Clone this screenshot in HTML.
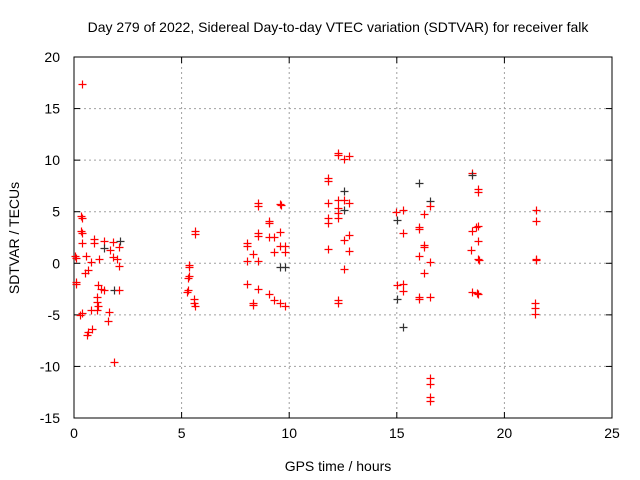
<!DOCTYPE html>
<html><head><meta charset="utf-8"><style>
html,body{margin:0;padding:0;background:#fff;}
svg{display:block;font-family:"Liberation Sans",sans-serif;}
</style></head><body>
<svg id="chart" width="640" height="480">
<rect width="640" height="480" fill="#fff"/>
<text x="338" y="32" text-anchor="middle" font-size="14" fill="#000">Day 279 of 2022, Sidereal Day-to-day VTEC variation (SDTVAR) for receiver falk</text>
<text x="338" y="471" text-anchor="middle" font-size="14" fill="#000">GPS time / hours</text>
<text transform="translate(19,238) rotate(-90)" text-anchor="middle" font-size="14" fill="#000">SDTVAR / TECUs</text>
<g id="grid"></g><g id="axes"></g><g id="marks"></g>
</svg>
<script>
const hours=[0.37,0.33,0.37,0.33,0.37,0.37,0.93,0.93,1.39,1.39,1.67,1.81,2.14,2.09,0.05,0.09,0.56,0.79,1.16,1.81,2.0,2.09,0.65,0.51,0.09,0.09,1.12,1.25,1.39,1.86,2.09,1.07,1.07,1.12,0.37,0.28,0.79,1.07,1.63,1.58,0.65,0.6,0.84,1.86,
5.34,5.34,5.34,5.3,5.3,5.25,5.62,5.62,5.58,5.58,5.62,
8.55,8.55,9.57,9.62,9.06,9.06,8.55,8.55,9.57,9.06,9.29,9.29,8.04,8.04,8.32,8.04,8.55,9.57,9.8,9.8,9.57,9.8,8.04,8.55,9.06,9.29,9.57,9.8,8.32,8.32,
11.8,11.8,12.27,12.27,12.55,12.78,11.8,12.27,12.27,12.27,12.55,12.55,12.78,12.55,11.8,11.8,12.27,12.78,12.55,11.8,12.78,12.55,12.27,12.27,
15.01,15.29,15.29,15.01,15.29,14.96,15.29,15.01,15.29,16.03,16.03,16.03,16.26,16.26,16.03,16.26,16.03,16.03,16.54,16.54,16.26,16.54,16.54,16.54,16.54,16.54,16.54,
18.49,18.49,18.77,18.77,18.49,18.68,18.77,18.77,18.45,18.77,18.82,18.49,18.77,18.72,
21.47,21.47,21.47,21.47,21.42,21.42,21.42];
const tecu=[17.36,4.56,4.36,3.1,2.91,1.94,2.33,1.94,2.13,1.45,1.26,2.04,2.13,1.55,0.68,0.48,0.68,0.1,0.39,0.58,0.39,-0.29,-0.68,-0.97,-1.84,-2.04,-2.13,-2.52,-2.62,-2.62,-2.62,-3.3,-3.78,-4.17,-4.85,-5.04,-4.56,-4.56,-4.75,-5.63,-6.69,-6.98,-6.4,-9.6,
-0.19,-0.39,-1.26,-1.45,-2.62,-2.81,3.1,2.81,-3.49,-3.88,-4.17,
5.82,5.53,5.72,5.63,4.07,3.88,2.91,2.62,3.01,2.52,2.52,1.07,1.94,1.65,0.87,0.19,0.19,1.65,1.65,1.07,-0.39,-0.39,-2.04,-2.52,-3.0,-3.59,-3.88,-4.17,-3.88,-4.07,
8.24,7.95,10.67,10.48,10.09,10.38,5.82,6.11,5.33,4.85,6.98,6.11,5.82,5.14,4.36,3.88,4.36,2.72,2.23,1.36,1.16,-0.58,-3.88,-3.59,
-2.13,-2.04,-2.72,-3.49,-6.21,4.95,5.14,4.17,2.91,7.76,3.49,3.3,4.75,1.55,0.68,-0.97,-3.3,-3.49,6.01,5.53,1.75,0.1,-3.3,-11.15,-11.74,-13.0,-13.38,
8.73,8.54,7.18,6.89,3.1,3.49,3.59,2.13,1.26,0.39,0.29,-2.81,-3.0,-2.91,
5.14,4.07,0.39,0.29,-3.88,-4.36,-4.95];
const darkIdx=[9,12,29,75,76,95,98,112,113,116,118,127,137];
const xTicks=[0,5,10,15,20,25];
const yTicks=[-15,-10,-5,0,5,10,15,20];
const X0=74,X1=612,Y0=418,Y1=57,XMIN=0,XMAX=25,YMIN=-15,YMAX=20;
const sx=v=>X0+(v-XMIN)/(XMAX-XMIN)*(X1-X0);
const sy=v=>Y0-(v-YMIN)/(YMAX-YMIN)*(Y0-Y1);
const NS="http://www.w3.org/2000/svg";
function mk(tag,attrs,parent){const e=document.createElementNS(NS,tag);for(const k in attrs)e.setAttribute(k,attrs[k]);parent.appendChild(e);return e;}
const grid=document.getElementById('grid'),axes=document.getElementById('axes'),marks=document.getElementById('marks');
xTicks.forEach(t=>{
  const x=sx(t);
  if(t>XMIN&&t<XMAX){const g=mk('line',{x1:x,x2:x,y1:Y1,y2:Y0,stroke:'#a0a0a0','stroke-dasharray':'2,3'},grid);
  
  }
  const tk=mk('line',{x1:x,x2:x,y1:Y0,y2:Y0-6,stroke:'#000'},axes);
  
  
  const tk2=mk('line',{x1:x,x2:x,y1:Y1,y2:Y1+6,stroke:'#000'},axes);
  
  
  const l=mk('text',{x:x,y:Y0+20,'text-anchor':'middle','font-size':'14'},axes);l.textContent=t;
  
  
});
yTicks.forEach(t=>{
  const y=sy(t);
  if(t>YMIN&&t<YMAX){const g=mk('line',{x1:X0,x2:X1,y1:y,y2:y,stroke:'#a0a0a0','stroke-dasharray':'2,3'},grid);
  
  }
  const tk=mk('line',{x1:X0,x2:X0+6,y1:y,y2:y,stroke:'#000'},axes);
  
  
  const tk2=mk('line',{x1:X1,x2:X1-6,y1:y,y2:y,stroke:'#000'},axes);
  
  
  const l=mk('text',{x:X0-14,y:y+5,'text-anchor':'end','font-size':'14'},axes);l.textContent=t;
  
  
});
const frame=mk('rect',{x:X0,y:Y1,width:X1-X0,height:Y0-Y1,fill:'none',stroke:'#000'},axes);


hours.forEach((h,i)=>{
  const x=Math.round(sx(h))+0.5,y=Math.round(sy(tecu[i]))+0.5;
  const c=darkIdx.includes(i)?'#333':'#ff0000';
  const p=mk('path',{d:`M${x-4},${y}H${x+4}M${x},${y-4}V${y+4}`,stroke:c,'stroke-width':1.2,fill:'none'},marks);
  
  
});
</script>
</body></html>
